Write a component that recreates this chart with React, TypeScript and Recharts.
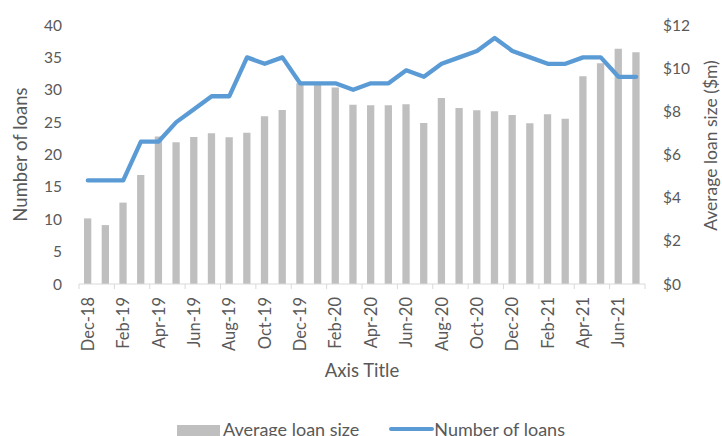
import React from "react";
import { ComposedChart, Bar, Line, XAxis, YAxis, Legend, Label } from "recharts";

const months = [
  "Dec-18", "Jan-19", "Feb-19", "Mar-19", "Apr-19", "May-19", "Jun-19", "Jul-19",
  "Aug-19", "Sep-19", "Oct-19", "Nov-19", "Dec-19", "Jan-20", "Feb-20", "Mar-20",
  "Apr-20", "May-20", "Jun-20", "Jul-20", "Aug-20", "Sep-20", "Oct-20", "Nov-20",
  "Dec-20", "Jan-21", "Feb-21", "Mar-21", "Apr-21", "May-21", "Jun-21", "Jul-21",
];

// $m, right axis
const avgLoanSize = [
  3.04, 2.73, 3.77, 5.05, 6.83, 6.57, 6.81, 6.98, 6.8, 7.01, 7.77, 8.06, 9.3, 9.35, 9.1, 8.31,
  8.28, 8.28, 8.33, 7.46, 8.62, 8.16, 8.05, 8.0, 7.83, 7.45, 7.86, 7.66, 9.62, 10.23, 10.9, 10.74,
];

// count, left axis
const numberOfLoans = [
  16, 16, 16, 22, 22, 25, 27, 29, 29, 35, 34, 35, 31, 31, 31, 30,
  31, 31, 33, 32, 34, 35, 36, 38, 36, 35, 34, 34, 35, 35, 32, 32,
];

const leftTicks = [0, 5, 10, 15, 20, 25, 30, 35, 40];
const rightTicks = [0, 2, 4, 6, 8, 10, 12];

const data = months.map((m, i) => ({ month: m, avg: avgLoanSize[i], count: numberOfLoans[i] }));

const TEXT = "#595959";
const FONT = "Lato, 'Open Sans', sans-serif";
const AXIS = "#D9D9D9";

function MonthTick(props: any) {
  const { x, y, payload, index } = props;
  const half = payload?.offset ?? 8.84;
  const last = index === months.length - 1;
  return (
    <g>
      {index % 2 === 0 && <line x1={x - half} x2={x - half} y1={y - 5} y2={y} stroke={AXIS} />}
      {last && <line x1={x + half} x2={x + half} y1={y - 5} y2={y} stroke={AXIS} />}
      {index % 2 === 0 && (
        <text
          x={x}
          y={y + 8}
          transform={`rotate(-90, ${x}, ${y + 8})`}
          textAnchor="end"
          dy="0.36em"
          fill={TEXT}
          fontSize={16.5}
          fontFamily={FONT}
        >
          {payload.value}
        </text>
      )}
    </g>
  );
}

function RightTitle(props: any) {
  const vb = props.viewBox;
  const x = vb.x + vb.width - 11;
  const y = vb.y + vb.height / 2 - 9;
  return (
    <text
      x={x}
      y={y}
      transform={`rotate(-90, ${x}, ${y})`}
      textAnchor="middle"
      dy="0.36em"
      fill={TEXT}
      fontSize={17.5}
      fontFamily={FONT}
    >
      Average loan size ($m)
    </text>
  );
}

function LegendContent() {
  return (
    <div style={{ display: "flex", alignItems: "center", fontFamily: FONT, fontSize: 18, color: TEXT, paddingLeft: 177 }}>
      <span style={{ display: "inline-block", width: 43, height: 12, background: "#BFBFBF", marginRight: 3, marginTop: 4 }} />
      <span>Average loan size</span>
      <span style={{ display: "inline-block", width: 45, height: 4, background: "#5B9BD5", marginLeft: 30, borderRadius: 2 }} />
      <span>Number of loans</span>
    </div>
  );
}

export default function App() {
  return (
    <div style={{ position: "absolute", left: 0, top: 0, fontFamily: FONT }}>
      <ComposedChart width={722} height={436} data={data} margin={{ top: 25, right: 0, left: 0, bottom: 0 }}>
        <XAxis
          dataKey="month"
          height={152}
          interval={0}
          tickSize={5}
          tickMargin={0}
          tickLine={false}
          axisLine={{ stroke: AXIS }}
          tick={<MonthTick />}
        >
          <Label value="Axis Title" position="insideTop" offset={80} fill={TEXT} fontSize={18.5} fontFamily={FONT} />
        </XAxis>
        <YAxis
          yAxisId="left"
          width={79}
          domain={[0, 40]}
          ticks={leftTicks}
          axisLine={false}
          tickLine={false}
          tickMargin={11}
          tick={{ fill: TEXT, fontSize: 15.5, fontFamily: FONT }}
        >
          <Label
            value="Number of loans"
            angle={-90}
            position="insideLeft"
            offset={20}
            fill={TEXT}
            fontSize={18.5}
            fontFamily={FONT}
            style={{ textAnchor: "middle" }}
          />
        </YAxis>
        <YAxis
          yAxisId="right"
          orientation="right"
          width={77}
          domain={[0, 12]}
          ticks={rightTicks}
          axisLine={false}
          tickLine={false}
          tickMargin={12}
          tickFormatter={(v) => `$${v}`}
          tick={{ fill: TEXT, fontSize: 15.5, fontFamily: FONT }}
        >
          <Label content={<RightTitle />} />
        </YAxis>
        <Bar yAxisId="right" dataKey="avg" name="Average loan size" fill="#BFBFBF" barSize={7.3} isAnimationActive={false} />
        <Line
          yAxisId="left"
          dataKey="count"
          name="Number of loans"
          stroke="#5B9BD5"
          strokeWidth={4.3}
          strokeLinejoin="round"
          strokeLinecap="round"
          dot={false}
          type="linear"
          isAnimationActive={false}
        />
        <Legend verticalAlign="middle" content={<LegendContent />} wrapperStyle={{ top: 418, left: 0, width: 722 }} />
      </ComposedChart>
    </div>
  );
}
